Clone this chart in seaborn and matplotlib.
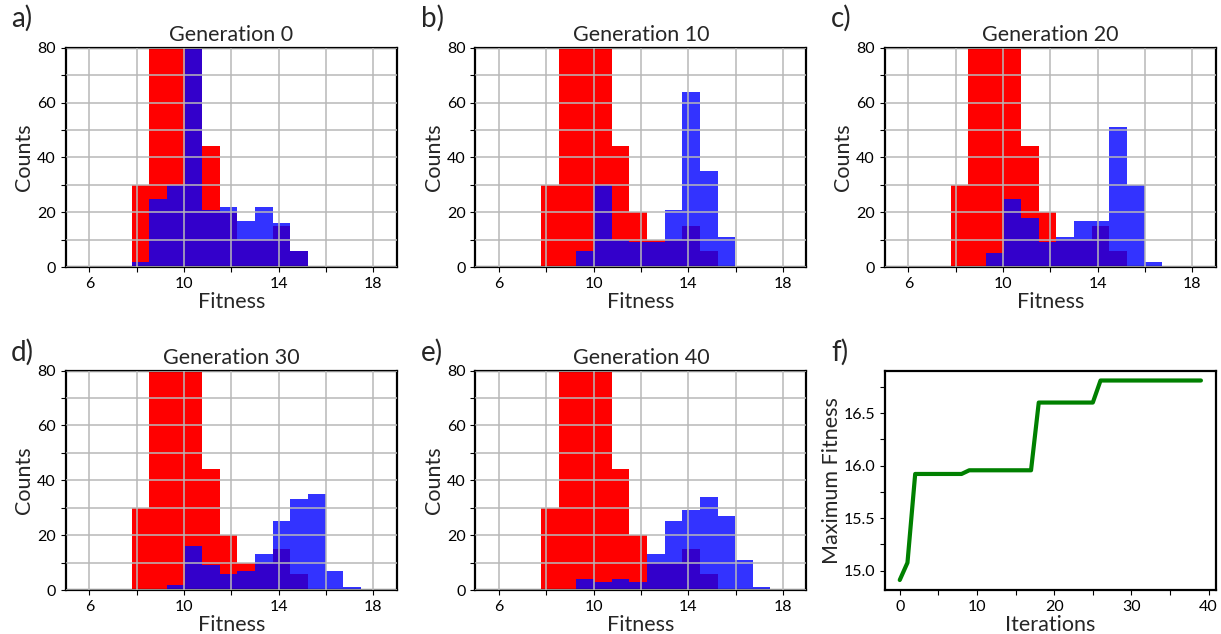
import numpy as np
import matplotlib
matplotlib.use("Agg")
import matplotlib.pyplot as plt
from matplotlib.ticker import MultipleLocator
import seaborn as sns

sns.set_theme(style="ticks")
plt.rcParams['font.family'] = ['Lato', 'DejaVu Sans']

# ------------------------------------------------------------
# Data
# ------------------------------------------------------------
bin_edges = [7.79 + 0.745 * k for k in range(14)]

# reference population (red), same in every panel; tall bins clipped at 80
red_counts = [30, 120, 150, 110, 44, 20, 10, 10, 15, 6, 0, 0, 0]

generations = [0, 10, 20, 30, 40]
blue_gen0 = [2, 25, 30, 100, 21, 22, 17, 22, 16, 6, 0, 0, 0]
blue_gen10 = [0, 0, 6, 30, 10, 9, 9, 21, 64, 35, 11, 0, 0]
blue_gen20 = [0, 0, 5, 25, 18, 9, 11, 17, 17, 51, 30, 2, 0]
blue_gen30 = [0, 0, 2, 16, 9, 6, 7, 13, 25, 33, 35, 7, 1]
blue_gen40 = [0, 0, 4, 3, 4, 3, 13, 25, 29, 34, 27, 11, 1]
blue_counts = [blue_gen0, blue_gen10, blue_gen20, blue_gen30, blue_gen40]

iterations = list(range(40))
max_fitness = ([14.91, 15.075] + [15.92] * 7 + [15.955] * 9
               + [16.60] * 8 + [16.81] * 14)

panel_labels = ['a)', 'b)', 'c)', 'd)', 'e)', 'f)']

bin_centers = [(bin_edges[i] + bin_edges[i + 1]) / 2 for i in range(len(bin_edges) - 1)]

# ------------------------------------------------------------
# Figure
# ------------------------------------------------------------
fig, axes = plt.subplots(2, 3, figsize=(12.21, 6.34), dpi=100)
fig.subplots_adjust(left=0.0538, right=0.9959, top=0.9248, bottom=0.0694,
                    wspace=0.236, hspace=0.471)
axes = axes.ravel()


def style_axes(ax):
    for s in ax.spines.values():
        s.set_linewidth(1.6)
        s.set_color('black')
    ax.tick_params(axis='both', which='both', direction='out', colors='black',
                   labelsize=11.5, width=0.8, length=3.5)


for i, gen in enumerate(generations):
    ax = axes[i]
    sns.histplot(x=bin_centers, weights=red_counts, bins=bin_edges, color='#ff0000',
                 alpha=1.0, linewidth=0, ax=ax)
    sns.histplot(x=bin_centers, weights=blue_counts[i], bins=bin_edges, color='#0000ff',
                 alpha=0.8, linewidth=0, ax=ax)
    ax.set_xlim(5, 19)
    ax.set_ylim(0, 80)
    ax.xaxis.set_major_locator(MultipleLocator(4))
    ax.xaxis.set_minor_locator(MultipleLocator(2))
    ax.set_xticks([6, 10, 14, 18])
    ax.yaxis.set_major_locator(MultipleLocator(20))
    ax.yaxis.set_minor_locator(MultipleLocator(10))
    ax.set_axisbelow(False)
    ax.grid(which='both', color='#b8b8b8', linewidth=1.1)
    ax.set_title(f'Generation {gen}', fontsize=15.5, pad=5)
    ax.set_xlabel('Fitness', fontsize=15.5, labelpad=1)
    ax.set_ylabel('Counts', fontsize=15.5, labelpad=2)
    style_axes(ax)

ax = axes[5]
sns.lineplot(x=iterations, y=max_fitness, color='#008000', linewidth=3, ax=ax)
ax.xaxis.set_major_locator(MultipleLocator(10))
ax.xaxis.set_minor_locator(MultipleLocator(5))
ax.yaxis.set_major_locator(MultipleLocator(0.5))
ax.yaxis.set_minor_locator(MultipleLocator(0.25))
ax.yaxis.set_major_formatter(matplotlib.ticker.FormatStrFormatter('%.1f'))
ax.set_xlabel('Iterations', fontsize=15.5, labelpad=1)
ax.set_ylabel('Maximum Fitness', fontsize=15.5, labelpad=1)
style_axes(ax)

# panel letters
label_pos = [(11, 5), (421, 5), (831, 5), (11, 339), (421, 339), (831, 339)]
for lab, (px, py) in zip(panel_labels, label_pos):
    fig.text(px / 1221, 1 - py / 634, lab, fontsize=20, ha='left', va='top')

plt.savefig('out.png', dpi=100)
